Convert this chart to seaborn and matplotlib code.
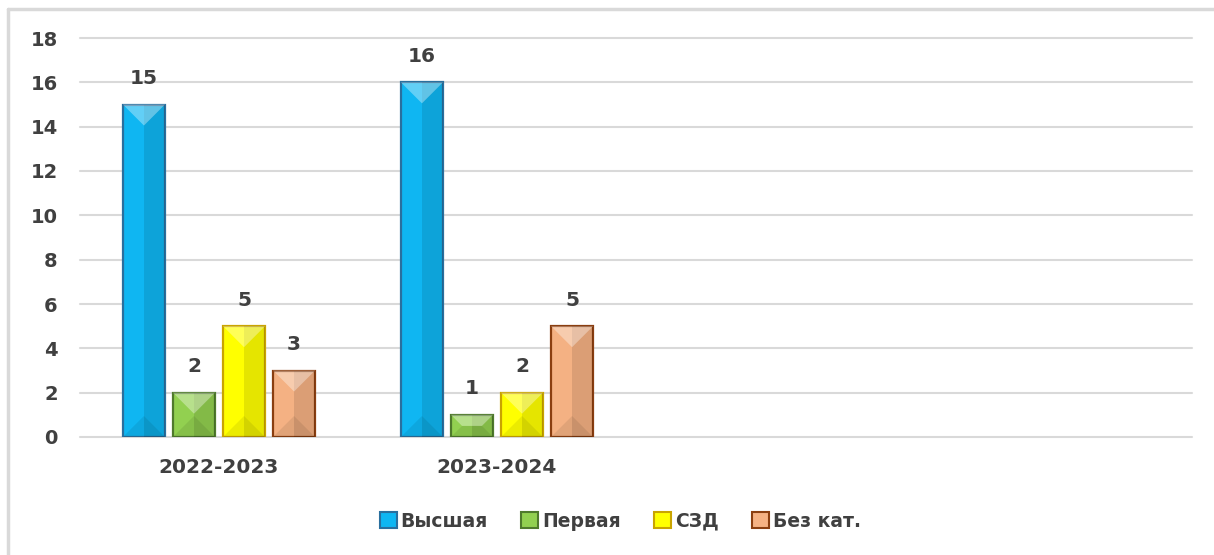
import matplotlib
matplotlib.use('Agg')
import matplotlib.pyplot as plt
from matplotlib.patches import Polygon, Rectangle, Patch
from matplotlib.lines import Line2D
import numpy as np
import pandas as pd
import seaborn as sns

# data
years = ['2022-2023', '2023-2024']
levels = ['Высшая', 'Первая', 'СЗД', 'Без кат.']
counts_2022 = [15, 2, 5, 3]
counts_2023 = [16, 1, 2, 5]
y_ticks = [0, 2, 4, 6, 8, 10, 12, 14, 16, 18]

fill_colors = ['#0FB6F2', '#92D050', '#FFFF00', '#F4B183']
edge_colors = ['#2A6F9E', '#4F7A2C', '#C9A400', '#8A3E10']
text_col = '#404040'

df = pd.DataFrame({
    'year': np.repeat(years, len(levels)),
    'level': levels * len(years),
    'count': counts_2022 + counts_2023,
})

sns.set_theme(style='white')
plt.rcParams['font.family'] = ['DejaVu Sans']
plt.rcParams['font.weight'] = 'bold'

fig = plt.figure(figsize=(12.14, 5.55), dpi=100)
ax = fig.add_axes([80 / 1214, 1 - 437 / 555, 1112 / 1214, 399 / 555])

palette = dict(zip(levels, fill_colors))
sns.barplot(data=df, x='year', y='count', hue='level', hue_order=levels,
            order=years, palette=palette, width=0.72, gap=0.16,
            saturation=1, legend=False, ax=ax, zorder=3)

ax.set_xlim(-0.5, 3.5)
ax.set_ylim(0, 18)
ax.set_yticks(y_ticks)
ax.set_xlabel('')
ax.set_ylabel('')
for s in ax.spines.values():
    s.set_visible(False)
ax.grid(axis='y', color='#D9D9D9', linewidth=1.5, zorder=0)
ax.grid(axis='x', visible=False)
for gl in ax.get_ygridlines():
    gl.set_clip_on(False)
ax.tick_params(axis='y', length=0, pad=16, labelsize=14, labelcolor=text_col)
ax.tick_params(axis='x', length=0, pad=15, labelsize=14.5, labelcolor=text_col)
for lab in ax.get_xticklabels() + ax.get_yticklabels():
    lab.set_fontweight('bold')

# colour edges per hue and draw the bevel look on each bar
to_px = ax.transData.transform
to_data = ax.transData.inverted().transform
for i, cont in enumerate(ax.containers):
    for bar in cont:
        bar.set_edgecolor(edge_colors[i])
        bar.set_linewidth(1.6)
        x0, w, h = bar.get_x(), bar.get_width(), bar.get_height()
        x1 = x0 + w
        (px0, py0), (px1, py1) = to_px([(x0, 0), (x1, h)])
        hw = (px1 - px0) / 2
        d = min(hw, (py1 - py0) / 2)
        pts_top = to_data([(px0, py1), (px1, py1), (px1 - d, py1 - d), (px0 + d, py1 - d)])
        pts_bot = to_data([(px0, py0), (px1, py0), (px1 - d, py0 + d), (px0 + d, py0 + d)])
        right = to_data([(px0 + hw, py0), (px1, py0), (px1, py1), (px0 + hw, py1)])
        ax.add_patch(Polygon(right, closed=True, facecolor='black', alpha=0.10,
                             linewidth=0, zorder=4))
        ax.add_patch(Polygon(pts_top, closed=True, facecolor='white', alpha=0.35,
                             linewidth=0, zorder=4))
        ax.add_patch(Polygon(pts_bot, closed=True, facecolor='black', alpha=0.08,
                             linewidth=0, zorder=4))
    ax.bar_label(cont, padding=12, fontsize=14.5, fontweight='bold', color=text_col)

handles = [Patch(facecolor=fc, edgecolor=ec, linewidth=1.5)
           for fc, ec in zip(fill_colors, edge_colors)]
fig.legend(handles, levels, loc='center', bbox_to_anchor=(0.511, 0.061), ncol=4,
           frameon=False, handlelength=0.9, handleheight=0.9,
           handletextpad=0.2, columnspacing=1.8, labelcolor=text_col,
           prop={'weight': 'bold', 'size': 13.5})

# outer chart frame (only top and left edges fall inside the picture)
fig.add_artist(Line2D([8 / 1214, 1.0], [1 - 9 / 555, 1 - 9 / 555],
                      transform=fig.transFigure, color='#D9D9D9', linewidth=2.5))
fig.add_artist(Line2D([8 / 1214, 8 / 1214], [0.0, 1 - 9 / 555],
                      transform=fig.transFigure, color='#D9D9D9', linewidth=2.5))

fig.savefig('out.png', dpi=100, facecolor='white')
